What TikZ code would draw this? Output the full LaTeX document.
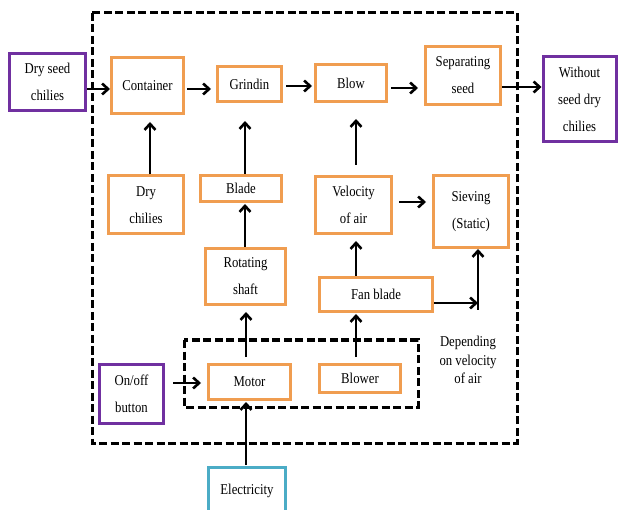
\documentclass[tikz,border=0pt]{standalone}
\usepackage{fontspec}
\setmainfont{Liberation Serif}[FakeStretch=0.85]
\usetikzlibrary{arrows.meta}
\definecolor{obox}{RGB}{240,157,80}
\definecolor{pbox}{RGB}{112,48,160}
\definecolor{tbox}{RGB}{75,172,198}
\tikzset{
  base/.style={draw, line width=3pt, align=center, inner sep=0pt,
    font=\fontsize{15}{27}\selectfont},
  ob/.style={base, draw=obox},
  pb/.style={base, draw=pbox},
  tb/.style={base, draw=tbox},
  arr/.style={line width=2.6pt, -{Straight Barb[length=6pt,width=11pt,line width=2.6pt]}},
  dbox/.style={line width=3pt, dash pattern=on 8pt off 3.5pt}
}
\begin{document}
\begin{tikzpicture}[x=1pt,y=-1pt]
\useasboundingbox (0,0) rectangle (618,510);
% dashed frames
\draw[dbox] (92,13) rectangle (517,443);
\draw[dbox] (184,340) rectangle (418,407);
% nodes
\node[pb, minimum width=76pt, minimum height=57pt] (dryseed) at (47.5,82) {Dry seed\\chilies};
\node[ob, minimum width=72pt, minimum height=56pt] (container) at (147.5,85.5) {Container};
\node[ob, minimum width=64pt, minimum height=35pt] (grindin) at (249.5,84) {Grindin};
\node[ob, minimum width=71pt, minimum height=37pt] (blow) at (351,83) {Blow};
\node[ob, minimum width=75pt, minimum height=58pt] (sep) at (463,75.5) {Separating\\seed};
\node[pb, minimum width=73pt, minimum height=85pt] (without) at (579.5,99) {Without\\seed dry\\chilies};
\node[ob, minimum width=75pt, minimum height=58pt] (drychilies) at (146,205) {Dry\\chilies};
\node[ob, minimum width=81pt, minimum height=26pt] (blade) at (241,188.5) {Blade};
\node[ob, minimum width=76pt, minimum height=57pt] (velocity) at (353.5,205) {Velocity\\of air};
\node[ob, minimum width=75pt, minimum height=72pt] (sieving) at (471,211.5) {Sieving\\(Static)};
\node[ob, minimum width=80pt, minimum height=56pt] (rotating) at (245.5,276.5) {Rotating\\shaft};
\node[ob, minimum width=113pt, minimum height=34pt] (fanblade) at (376,294.5) {Fan blade};
\node[ob, minimum width=82pt, minimum height=35pt] (motor) at (249.5,382) {Motor};
\node[ob, minimum width=81pt, minimum height=28pt] (blower) at (360,378.5) {Blower};
\node[pb, minimum width=64pt, minimum height=59pt] (onoff) at (131.5,394) {On/off\\button};
\node[tb, minimum width=77pt, minimum height=47pt] (elec) at (247,491) {Electricity};
\node[align=center, inner sep=0pt, font=\fontsize{15}{18.5}\selectfont] (dep) at (468,360) {Depending\\on velocity\\of air};
% connectors
\draw[arr] (dryseed.east |- 0,89) -- (container.west |- 0,89);
\draw[arr, shorten <=2pt, shorten >=5pt] (container.east |- 0,89) -- (grindin.west |- 0,89);
\draw[arr, shorten <=3pt, shorten >=2pt] (grindin.east |- 0,86) -- (blow.west |- 0,86);
\draw[arr, shorten <=3pt, shorten >=6pt] (blow.east |- 0,88) -- (sep.west |- 0,88);
\draw[arr] (sep.east |- 0,87) -- (without.west |- 0,87);
\draw[arr, shorten >=7pt] (drychilies.north -| 150,0) -- (container.south -| 150,0);
\draw[arr, shorten >=18pt] (blade.north -| 245,0) -- (grindin.south -| 245,0);
\draw[arr, shorten >=1pt] (rotating.north -| 245,0) -- (blade.south -| 245,0);
\draw[arr, shorten <=6pt, shorten >=6pt] (motor.north -| 246,0) -- (rotating.south -| 246,0);
\draw[arr, shorten <=1pt, shorten >=1pt] (elec.north -| 246,0) -- (motor.south -| 246,0);
\draw[arr, shorten <=8pt, shorten >=6pt] (onoff.east |- 0,383) -- (motor.west |- 0,383);
\draw[arr, shorten <=10pt, shorten >=16pt] (velocity.north -| 356,0) -- (blow.south -| 356,0);
\draw[arr, shorten >=6pt] (fanblade.north -| 356,0) -- (velocity.south -| 356,0);
\draw[arr, shorten <=6pt, shorten >=1pt] (blower.north -| 356,0) -- (fanblade.south -| 356,0);
\draw[arr, shorten <=6pt, shorten >=6pt] (velocity.east |- 0,202) -- (sieving.west |- 0,202);
\coordinate (corner) at (478,303);
\coordinate (cornerlow) at (478,310);
\draw[arr] (fanblade.east |- corner) -- (corner);
\draw[arr] (cornerlow) -- (sieving.south -| cornerlow);
\end{tikzpicture}
\end{document}
